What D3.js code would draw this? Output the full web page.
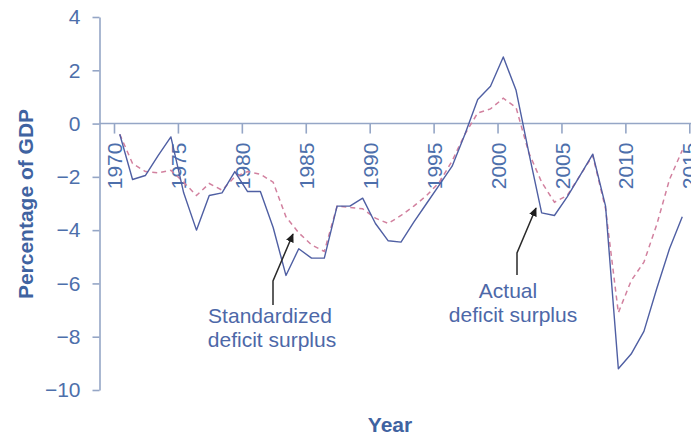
<!DOCTYPE html>
<html>
<head>
<meta charset="utf-8">
<script src="https://cdn.jsdelivr.net/npm/d3@7"></script>
<style>
  html, body { margin: 0; padding: 0; background: #ffffff; }
  svg { display: block; }
  text { font-family: "Liberation Sans", Arial, Helvetica, sans-serif; }
</style>
</head>
<body>
<svg id="chart" width="691" height="436"></svg>
<script>
// ---- data ----
const years = [1970,1971,1972,1973,1974,1975,1976,1977,1978,1979,
               1980,1981,1982,1983,1984,1985,1986,1987,1988,1989,
               1990,1991,1992,1993,1994,1995,1996,1997,1998,1999,
               2000,2001,2002,2003,2004,2005,2006,2007,2008,2009,
               2010,2011,2012,2013,2014];
const actualDeficit = [-0.4,-2.1,-1.95,-1.2,-0.5,-2.6,-4.0,-2.7,-2.6,-1.8,
                       -2.55,-2.55,-3.9,-5.7,-4.7,-5.05,-5.05,-3.1,-3.1,-2.8,
                       -3.75,-4.4,-4.45,-3.7,-3.0,-2.3,-1.6,-0.4,0.9,1.4,
                       2.5,1.25,-1.1,-3.35,-3.45,-2.75,-1.95,-1.15,-3.1,-9.2,
                       -8.65,-7.8,-6.2,-4.7,-3.5];
const standardizedDeficit = [-0.4,-1.5,-1.8,-1.85,-1.75,-2.2,-2.7,-2.25,-2.5,-2.0,
                             -1.8,-1.9,-2.2,-3.5,-4.1,-4.55,-4.8,-3.1,-3.15,-3.2,
                             -3.55,-3.75,-3.45,-3.1,-2.7,-2.2,-1.4,-0.4,0.4,0.55,
                             0.95,0.6,-1.1,-2.2,-2.95,-2.7,-1.95,-1.2,-3.2,-7.1,
                             -5.9,-5.2,-3.8,-2.1,-1.0];
const xTickValues = [1970,1975,1980,1985,1990,1995,2000,2005,2010,2015];
const yTickValues = [4,2,0,-2,-4,-6,-8,-10];
const yAxisTitle = "Percentage of GDP";
const xAxisTitle = "Year";
const labelStandardized = ["Standardized", "deficit surplus"];
const labelActual = ["Actual", "deficit surplus"];

// ---- layout ----
const W = 691, H = 436;
const svg = d3.select("#chart");
const axisColor = "#95a6c6";
const tickTextColor = "#4d6fab";
const titleColor = "#3f63a1";
const solidColor = "#4f5fa3";
const dashColor = "#d2819f";
const fontSize = 21;
const dataOffset = 0.45; // data points sit slightly right of the year ticks

const x = d3.scaleLinear().domain([1970, 2015]).range([114, 689.3]);
const y = d3.scaleLinear().domain([-10, 4]).range([390, 17]);
const axisX = 99.5;

// x axis (at zero)
const gx = svg.append("g").attr("transform", `translate(0,${y(0)})`);
gx.call(d3.axisBottom(x).tickValues(xTickValues).tickSize(10).tickSizeOuter(0).tickFormat(d3.format("d")));
gx.select(".domain").remove();
gx.append("line").attr("x1", axisX).attr("x2", W).attr("y1", 0).attr("y2", 0)
  .attr("stroke", axisColor).attr("stroke-width", 1.6);
gx.selectAll(".tick line").attr("stroke", axisColor).attr("stroke-width", 1.6);
gx.selectAll(".tick text")
  .attr("transform", "rotate(-90)")
  .attr("text-anchor", "end")
  .attr("x", -19).attr("y", 0).attr("dy", "0.36em")
  .attr("fill", tickTextColor)
  .style("font-size", fontSize + "px");

// y axis
const gy = svg.append("g").attr("transform", `translate(${axisX},0)`);
gy.call(d3.axisLeft(y).tickValues(yTickValues).tickSize(7).tickSizeOuter(0).tickPadding(12));
gy.select(".domain").attr("stroke", axisColor).attr("stroke-width", 1.6);
gy.selectAll(".tick line").attr("stroke", axisColor).attr("stroke-width", 1.6);
gy.selectAll(".tick text").attr("fill", tickTextColor).style("font-size", fontSize + "px");
svg.selectAll(".tick text").style("font-family", '"Liberation Sans", Arial, sans-serif');

// axis titles
svg.append("text")
  .attr("transform", `translate(33,${204}) rotate(-90)`)
  .attr("text-anchor", "middle")
  .attr("fill", titleColor).attr("font-weight", "bold")
  .style("font-size", fontSize + "px")
  .text(yAxisTitle);
svg.append("text")
  .attr("x", 390).attr("y", 432)
  .attr("text-anchor", "middle")
  .attr("fill", titleColor).attr("font-weight", "bold")
  .style("font-size", fontSize + "px")
  .text(xAxisTitle);

// lines
const line = d3.line().x(d => x(d[0] + dataOffset)).y(d => y(d[1]));
svg.append("path")
  .datum(years.map((yr, i) => [yr, standardizedDeficit[i]]))
  .attr("d", line).attr("fill", "none")
  .attr("stroke", dashColor).attr("stroke-width", 1.5)
  .attr("stroke-dasharray", "5,4");
svg.append("path")
  .datum(years.map((yr, i) => [yr, actualDeficit[i]]))
  .attr("d", line).attr("fill", "none")
  .attr("stroke", solidColor).attr("stroke-width", 1.4)
  .attr("stroke-linejoin", "round");

// annotations
const defs = svg.append("defs");
defs.append("marker").attr("id", "arrow")
  .attr("viewBox", "0 0 10 10").attr("refX", 9).attr("refY", 5)
  .attr("markerWidth", 9).attr("markerHeight", 9)
  .attr("markerUnits", "userSpaceOnUse")
  .attr("orient", "auto")
  .append("path").attr("d", "M0,0.5 L10,5 L0,9.5 Z").attr("fill", "#1e1e1e");

function annotation(points, lines, anchor, tx, ty) {
  svg.append("path")
    .attr("d", d3.line()(points))
    .attr("fill", "none").attr("stroke", "#2a2a2a").attr("stroke-width", 1.5)
    .attr("marker-end", "url(#arrow)");
  const t = svg.append("text").attr("fill", "#4d68a8").style("font-size", fontSize + "px")
    .attr("text-anchor", anchor);
  lines.forEach((s, i) => {
    t.append("tspan").attr("x", tx[i]).attr("y", ty + i * 24).text(s);
  });
}
annotation([[273, 305], [273, 281], [293, 234]], labelStandardized, "middle", [270, 272], 323);
annotation([[517, 275], [517, 253], [536, 208]], labelActual, "middle", [508, 513], 298);
</script>
</body>
</html>
